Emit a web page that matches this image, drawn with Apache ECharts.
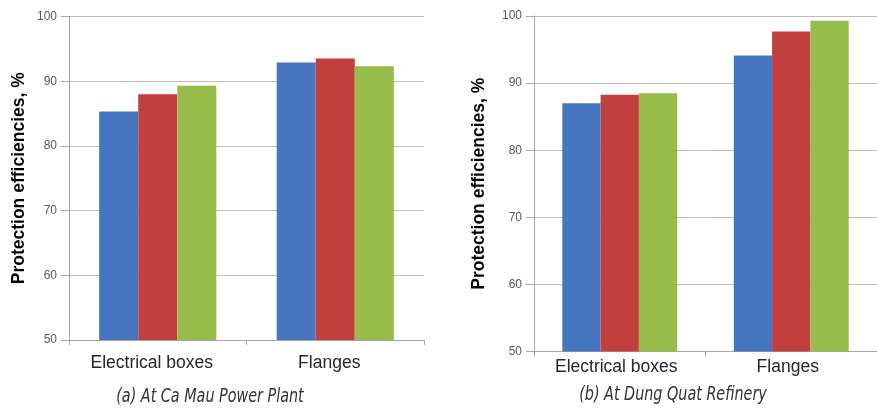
<!DOCTYPE html>
<html>
<head>
<meta charset="utf-8">
<script src="https://cdn.jsdelivr.net/npm/echarts@6/dist/echarts.min.js"></script>
<style>
html,body{margin:0;padding:0;background:#fff;}
#c{width:877px;height:409px;}
</style>
</head>
<body>
<div id="c"></div>
<script>
const categories = ['Electrical boxes', 'Flanges'];
const yTicks = [50, 60, 70, 80, 90, 100];
// (a) At Ca Mau Power Plant
const caMauBlue = [85.3, 92.9];
const caMauRed = [88.0, 93.5];
const caMauGreen = [89.3, 92.3];
// (b) At Dung Quat Refinery
const dungQuatBlue = [87.0, 94.1];
const dungQuatRed = [88.25, 97.7];
const dungQuatGreen = [88.5, 99.3];
const yName = 'Protection efficiencies, %';
const captions = ['(a) At Ca Mau Power Plant', '(b) At Dung Quat Refinery'];

const colors = ['#4676C0', '#C1403E', '#97BC4B'];
const gridColor = '#BFBFBF';
const axisColor = '#A6A6A6';

function yAxis(gridIndex, nameGap) {
  return {
    gridIndex: gridIndex, type: 'value',
    min: yTicks[0], max: yTicks[yTicks.length - 1], interval: yTicks[1] - yTicks[0],
    name: yName, nameLocation: 'middle', nameRotate: 90, nameGap: nameGap,
    nameTextStyle: { fontFamily: 'Liberation Sans, Arial, sans-serif', fontWeight: 'bold', fontSize: 17.5, color: '#000' },
    axisLine: { show: true, lineStyle: { color: axisColor, width: 1 } },
    axisTick: { show: true, length: 8, lineStyle: { color: axisColor } },
    axisLabel: { margin: 12, fontFamily: 'Liberation Sans, Arial, sans-serif', fontSize: 12, color: '#595959' },
    splitLine: { show: true, lineStyle: { color: gridColor, width: 1 } }
  };
}
function xAxis(gridIndex, margin, shift) {
  return {
    gridIndex: gridIndex, type: 'category', data: categories,
    axisLine: { show: true, lineStyle: { color: axisColor, width: 1 } },
    axisTick: { show: true, length: 5, lineStyle: { color: axisColor } },
    axisLabel: { margin: margin, padding: [0, shift, 0, 0], fontFamily: 'Liberation Sans, Arial, sans-serif', fontSize: 17.5, color: '#262626' }
  };
}
function bar(name, data, idx, color, gap) {
  return {
    name: name, type: 'bar', data: data, xAxisIndex: idx, yAxisIndex: idx,
    itemStyle: { color: color }, barGap: '0%', barCategoryGap: gap,
    animation: false
  };
}

const chart = echarts.init(document.getElementById('c'), null, { renderer: 'canvas' });
const capFont = 'italic 19px "Liberation Sans Narrow", "DejaVu Sans Condensed", sans-serif';
chart.setOption({
  animation: false,
  backgroundColor: '#fff',
  grid: [
    { left: 69, top: 16.5, width: 355, height: 323.5, containLabel: false },
    { left: 534, top: 16, width: 352, height: 335.5, containLabel: false }
  ],
  xAxis: [xAxis(0, 14, 12), xAxis(1, 7, 7)],
  yAxis: [yAxis(0, 41), yAxis(1, 46)],
  series: [
    bar('Blue', caMauBlue, 0, colors[0], '34%'),
    bar('Red', caMauRed, 0, colors[1], '34%'),
    bar('Green', caMauGreen, 0, colors[2], '34%'),
    bar('Blue', dungQuatBlue, 1, colors[0], '33%'),
    bar('Red', dungQuatRed, 1, colors[1], '33%'),
    bar('Green', dungQuatGreen, 1, colors[2], '33%')
  ],
  graphic: [
    { type: 'text', x: 210, y: 397, scaleX: 0.84, style: { text: captions[0], textAlign: 'center', textVerticalAlign: 'middle', fill: '#333', font: capFont } },
    { type: 'text', x: 673, y: 395, scaleX: 0.84, style: { text: captions[1], textAlign: 'center', textVerticalAlign: 'middle', fill: '#333', font: capFont } }
  ]
});
</script>
</body>
</html>
